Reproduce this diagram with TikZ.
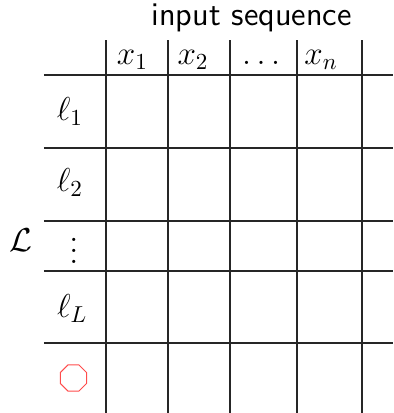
\documentclass[tikz,border=0pt]{standalone}
\usepackage{amsmath,amssymb}
\usetikzlibrary{shapes.geometric}

\begin{document}
\begin{tikzpicture}[
  gridline/.style={line width=0.6pt, black!85},
  lab/.style={font=\Large, scale=1.15, inner sep=0pt},
  stopmark/.style={regular polygon, regular polygon sides=8, draw=red!70,
     line width=0.5pt, minimum size=5mm, inner sep=0pt}]
  \useasboundingbox (0,0) rectangle (6.906,7.257);
  % table lines
  \foreach \x in {1.863,2.952,4.041,5.219,6.361}
    \draw[gridline] (\x,0) -- (\x,6.555);
  \foreach \y in {5.940,4.657,3.374,2.495,1.230}
    \draw[gridline] (0.773,\y) -- (6.906,\y);
  % header
  \node[lab, font=\Large\sffamily, anchor=base] (title) at (4.423,6.801) {input sequence};
  \node[lab, anchor=base] (x1)   at (2.328,6.115) {$x_1$};
  \node[lab, anchor=base] (x2)   at (3.392,6.115) {$x_2$};
  \node[lab, anchor=base] (xdots) at (4.639,6.115) {$\dots$};
  \node[lab, anchor=base] (xn)   at (5.641,6.115) {$x_n$};
  % labels
  \node[lab] (l1)    at (1.230,5.290) {$\ell_1$};
  \node[lab] (l2)    at (1.230,4.042) {$\ell_2$};
  \node[lab] (ldots) at (1.300,2.847)
    {\vbox{\baselineskip4.8pt \lineskiplimit0pt \hbox{.}\hbox{.}\hbox{.}}};
  \node[lab] (lL)    at (1.270,1.828) {$\ell_L$};
  \node[stopmark] (stop) at (1.290,0.615) {};
  \node[lab] (labset) at (0.369,3.040) {$\mathcal{L}$};
\end{tikzpicture}
\end{document}
